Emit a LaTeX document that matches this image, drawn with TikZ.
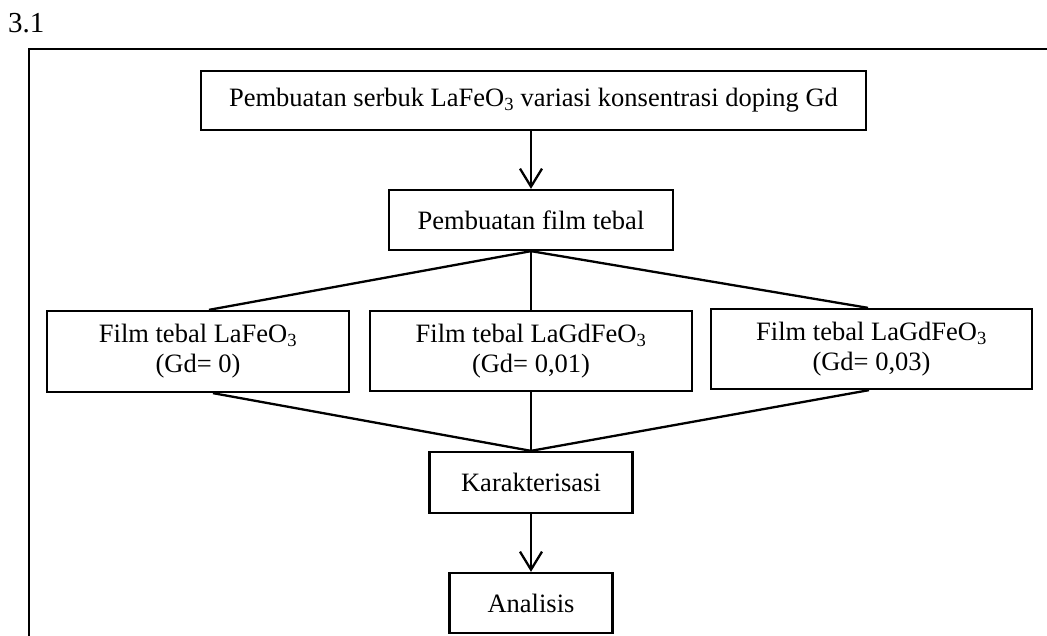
\documentclass[tikz,border=0pt]{standalone}
\usepackage{fontspec}
\setmainfont{Liberation Serif}
\usetikzlibrary{arrows.meta,calc}
\begin{document}
\begin{tikzpicture}[x=1pt,y=-1pt,
  box/.style={draw,line width=2.3pt,inner sep=0pt,align=center,font=\fontsize{26.5}{30}\selectfont},
  conn/.style={line width=2.3pt},
  arr/.style={conn,-{Straight Barb[length=18pt,width=22pt,line width=2.3pt]}}]
\useasboundingbox (0,0) rectangle (1047,636);
\clip (0,0) rectangle (1047,636);
\node[anchor=base west,font=\fontsize{29}{32}\selectfont,inner sep=0pt] (title) at (8,33) {3.1};
\draw[line width=2.5pt] (29,49) rectangle (1080,680);
\node[box,minimum width=665pt,minimum height=59pt] (A) at (533.5,100.5) {Pembuatan serbuk LaFeO\textsubscript{3} variasi konsentrasi doping Gd};
\node[box,minimum width=284pt,minimum height=60pt] (B) at (531,220) {Pembuatan film tebal};
\node[box,minimum width=302pt,minimum height=81pt] (C) at (198,351.5) {Film tebal LaFeO\textsubscript{3}\\(Gd= 0)};
\node[box,minimum width=322pt,minimum height=80pt] (D) at (531,351) {Film tebal LaGdFeO\textsubscript{3}\\(Gd= 0,01)};
\node[box,minimum width=321pt,minimum height=80pt] (E) at (871.5,349) {Film tebal LaGdFeO\textsubscript{3}\\(Gd= 0,03)};
\node[box,minimum width=203pt,minimum height=61pt] (F) at (531,482.5) {Karakterisasi};
\node[box,minimum width=163pt,minimum height=60pt] (G) at (531,603) {Analisis};
\draw[arr] (B.north |- A.south) -- (B.north);
\draw[conn] (B.south) -- ([xshift=11pt]C.north);
\draw[conn] (B.south) -- (D.north);
\draw[conn] (B.south) -- ([xshift=-3.5pt]E.north);
\draw[conn] ([xshift=15pt]C.south) -- (F.north);
\draw[conn] (D.south) -- (F.north);
\draw[conn] ([xshift=-2.5pt]E.south) -- (F.north);
\draw[arr] (F) -- (G);
\end{tikzpicture}
\end{document}
